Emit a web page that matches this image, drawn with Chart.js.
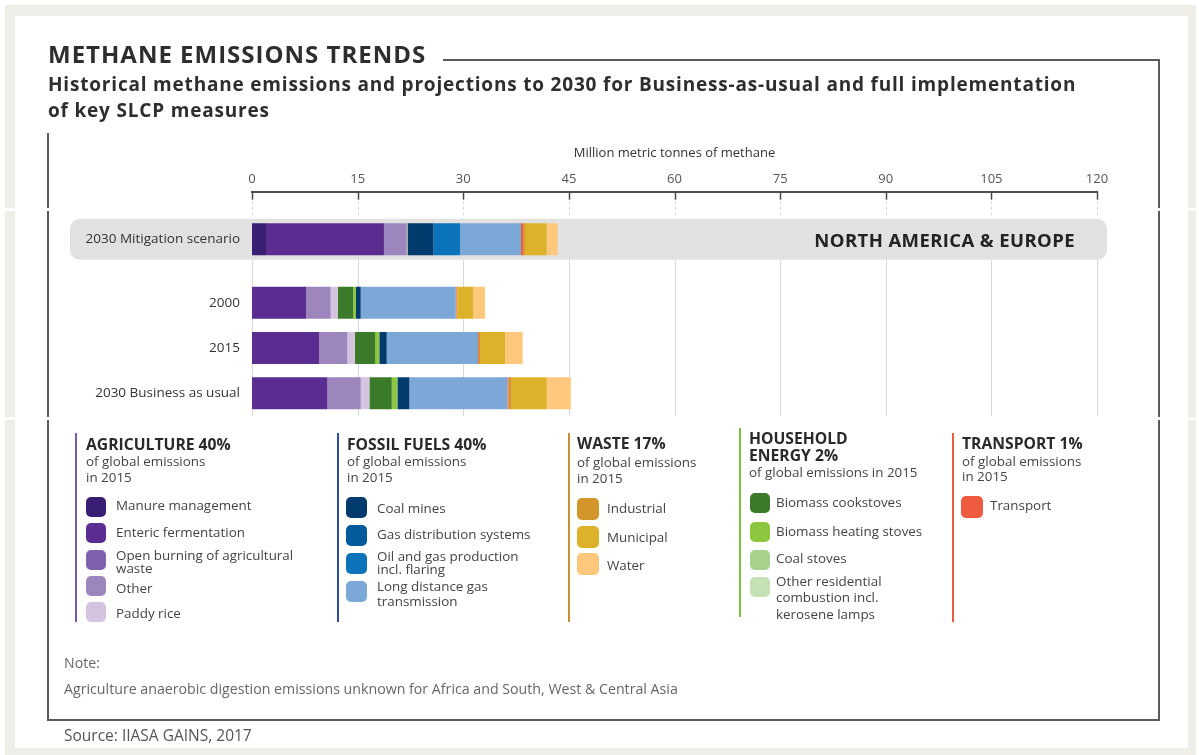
<!DOCTYPE html>
<html>
<head>
<meta charset="utf-8">
<title>Methane emissions trends</title>
<script src="https://cdn.jsdelivr.net/npm/chart.js@4.4.1/dist/chart.umd.min.js"></script>
<style>
  html, body { margin: 0; padding: 0; background: #fff; }
  body { width: 1199px; height: 755px; position: relative; overflow: hidden; font-family: "Open Sans", Lato, sans-serif; color: #333; }
  .abs { position: absolute; }
  .txt { position: absolute; white-space: nowrap; }
  .rule { position: absolute; background: #5a5a5a; }
  .gt { font-weight: 700; font-size: 15.7px; line-height: 18px; color: #2a2a2a; }
  .gs { font-size: 13.4px; line-height: 15.8px; color: #444; }
  .it { font-size: 13.4px; line-height: 14px; color: #444; }
  .sw { position: absolute; border-radius: 5px; }
  .vl { position: absolute; width: 2px; height: 189px; }
  #chart { position: absolute; left: 0; top: 0; }
</style>
</head>
<body>
  <!-- page frame -->
  <div class="abs" style="left:5px;top:5px;width:1191px;height:750px;background:#eeede8"></div>
  <div class="abs" style="left:15px;top:16px;width:1173px;height:732px;background:#fff"></div>

  <!-- boxed panel -->
  <div class="rule" style="left:443px;top:59px;width:717px;height:2px"></div>
  <div class="rule" style="left:1158px;top:59px;width:2px;height:662px"></div>
  <div class="rule" style="left:47px;top:719px;width:1113px;height:2px"></div>
  <div class="rule" style="left:47px;top:133px;width:2px;height:588px"></div>

  <!-- notches in the frame -->
  <div class="abs" style="left:0;top:208px;width:52px;height:3px;background:#fff"></div>
  <div class="abs" style="left:0;top:417px;width:52px;height:3px;background:#fff"></div>
  <div class="abs" style="left:1150px;top:208px;width:49px;height:3px;background:#fff"></div>
  <div class="abs" style="left:1150px;top:417px;width:49px;height:3px;background:#fff"></div>

  <canvas id="chart" width="1199" height="755"></canvas>

  <!-- headings -->
  <div class="txt" style="left:48px;top:40px;font-size:24px;line-height:28px;font-weight:700;color:#2e2e2e;letter-spacing:1px">METHANE EMISSIONS TRENDS</div>
  <div class="txt" style="left:48px;top:70.5px;font-size:19px;line-height:26.5px;font-weight:700;color:#2e2e2e;letter-spacing:0.81px">Historical methane emissions and projections to 2030 for Business-as-usual and full implementation<br>of key SLCP measures</div>

  <div class="txt" style="right:124px;top:229px;font-size:18.5px;line-height:22px;font-weight:700;color:#222;letter-spacing:0.4px">NORTH AMERICA &amp; EUROPE</div>

  <!-- legend: agriculture -->
  <div class="vl" style="left:75px;top:433px;background:#7a5aab"></div>
  <div class="txt gt" style="left:86px;top:435px">AGRICULTURE 40%</div>
  <div class="txt gs" style="left:86px;top:454px">of global emissions<br>in 2015</div>
  <div class="sw" style="left:86px;top:497px;width:20px;height:20px;background:#3a1e73"></div>
  <div class="sw" style="left:86px;top:523px;width:20px;height:20px;background:#5c2d91"></div>
  <div class="sw" style="left:86px;top:550px;width:20px;height:20px;background:#7e62ad"></div>
  <div class="sw" style="left:86px;top:576px;width:20px;height:20px;background:#9d86be"></div>
  <div class="sw" style="left:86px;top:602px;width:20px;height:20px;background:#d5c3e0"></div>
  <div class="txt it" style="left:116px;top:498px">Manure management</div>
  <div class="txt it" style="left:116px;top:524.5px">Enteric fermentation</div>
  <div class="txt it" style="left:116px;top:548.5px;line-height:13px">Open burning of agricultural<br>waste</div>
  <div class="txt it" style="left:116px;top:581px">Other</div>
  <div class="txt it" style="left:116px;top:606px">Paddy rice</div>

  <!-- legend: fossil fuels -->
  <div class="vl" style="left:337px;top:433px;background:#2e4f9f"></div>
  <div class="txt gt" style="left:347px;top:435px">FOSSIL FUELS 40%</div>
  <div class="txt gs" style="left:347px;top:454px">of global emissions<br>in 2015</div>
  <div class="sw" style="left:346px;top:497px;width:21px;height:21px;background:#013b6e"></div>
  <div class="sw" style="left:346px;top:525px;width:21px;height:21px;background:#035b9b"></div>
  <div class="sw" style="left:346px;top:553px;width:21px;height:21px;background:#0b73ba"></div>
  <div class="sw" style="left:346px;top:581px;width:21px;height:21px;background:#7ca8d8"></div>
  <div class="txt it" style="left:377px;top:501px">Coal mines</div>
  <div class="txt it" style="left:377px;top:527px">Gas distribution systems</div>
  <div class="txt it" style="left:377px;top:550px;line-height:12.5px">Oil and gas production<br>incl. flaring</div>
  <div class="txt it" style="left:377px;top:579px;line-height:15px">Long distance gas<br>transmission</div>

  <!-- legend: waste -->
  <div class="vl" style="left:568px;top:433px;background:#c98f33"></div>
  <div class="txt gt" style="left:577px;top:434px">WASTE 17%</div>
  <div class="txt gs" style="left:577px;top:453.5px;line-height:16.3px">of global emissions<br>in 2015</div>
  <div class="sw" style="left:577px;top:498px;width:22px;height:22px;background:#d3962b"></div>
  <div class="sw" style="left:577px;top:526px;width:22px;height:22px;background:#dcb22b"></div>
  <div class="sw" style="left:577px;top:553px;width:22px;height:22px;background:#fec87c"></div>
  <div class="txt it" style="left:607px;top:501px">Industrial</div>
  <div class="txt it" style="left:607px;top:529.7px">Municipal</div>
  <div class="txt it" style="left:607px;top:558px">Water</div>

  <!-- legend: household energy -->
  <div class="vl" style="left:739px;top:428px;background:#7cc142"></div>
  <div class="txt gt" style="left:749px;top:430px;line-height:16.7px">HOUSEHOLD<br>ENERGY 2%</div>
  <div class="txt gs" style="left:749px;top:464.7px">of global emissions in 2015</div>
  <div class="sw" style="left:750px;top:493px;width:20px;height:20px;background:#3c7a2b"></div>
  <div class="sw" style="left:750px;top:522px;width:20px;height:20px;background:#8dc641"></div>
  <div class="sw" style="left:750px;top:550px;width:20px;height:20px;background:#a8d28c"></div>
  <div class="sw" style="left:750px;top:577px;width:20px;height:20px;background:#c4e1b3"></div>
  <div class="txt it" style="left:776px;top:494.7px">Biomass cookstoves</div>
  <div class="txt it" style="left:776px;top:523.7px">Biomass heating stoves</div>
  <div class="txt it" style="left:776px;top:551.3px">Coal stoves</div>
  <div class="txt it" style="left:776px;top:572.7px;line-height:16.5px">Other residential<br>combustion incl.<br>kerosene lamps</div>

  <!-- legend: transport -->
  <div class="vl" style="left:952px;top:433px;background:#ef5b3f"></div>
  <div class="txt gt" style="left:962px;top:434px">TRANSPORT 1%</div>
  <div class="txt gs" style="left:962px;top:453.5px">of global emissions<br>in 2015</div>
  <div class="sw" style="left:961px;top:496px;width:22px;height:22px;background:#ef5b3f"></div>
  <div class="txt it" style="left:990px;top:498px">Transport</div>

  <!-- notes -->
  <div class="txt" style="left:64px;top:655px;font-size:14.2px;line-height:16px;color:#666">Note:</div>
  <div class="txt" style="left:64px;top:681px;font-size:14.2px;line-height:16px;color:#666">Agriculture anaerobic digestion emissions unknown for Africa and South, West &amp; Central Asia</div>
  <div class="txt" style="left:64px;top:726px;font-size:15.5px;line-height:18px;color:#555">Source: IIASA GAINS, 2017</div>

<script>
// Rows of the chart, top to bottom
const categories = ['2030 Mitigation scenario', '2000', '2015', '2030 Business as usual'];
// Axis tick labels (million metric tonnes of methane)
const xTickValues = [0, 15, 30, 45, 60, 75, 90, 105, 120];

// Emissions by source, million metric tonnes of methane, in row order
const manureManagement    = [1.99, 0, 0, 0];
const entericFermentation = [16.75, 7.67, 9.56, 10.71];
const openBurning         = [0, 0, 0, 0];
const otherAgriculture    = [3.23, 3.51, 3.98, 4.74];
const paddyRice           = [0.10, 0.99, 1.09, 1.22];
const biomassCookstoves   = [0.08, 2.22, 2.84, 3.18];
const biomassHeating      = [0, 0.38, 0.61, 0.80];
const coalStoves          = [0, 0, 0, 0];
const otherResidential    = [0, 0, 0, 0];
const coalMines           = [3.60, 0.67, 1.05, 1.70];
const gasDistribution     = [0, 0, 0, 0];
const oilGasProduction    = [3.79, 0, 0, 0];
const longDistanceGas     = [8.66, 13.49, 12.97, 13.92];
const transport           = [0.33, 0.10, 0.12, 0.15];
const wasteIndustrial     = [0.24, 0.10, 0.16, 0.47];
const wasteMunicipal      = [3.08, 2.31, 3.55, 4.97];
const wasteWater          = [1.56, 1.66, 2.51, 3.41];

// Vertical placement of each row on the index axis (the mitigation row sits apart)
const rowOffsets = [0, 1.4, 2.4, 3.4];

const series = [
  ['Manure management', manureManagement, '#3a1e73'],
  ['Enteric fermentation', entericFermentation, '#5c2d91'],
  ['Open burning of agricultural waste', openBurning, '#7e62ad'],
  ['Other', otherAgriculture, '#9d86be'],
  ['Paddy rice', paddyRice, '#d5c3e0'],
  ['Biomass cookstoves', biomassCookstoves, '#3c7a2b'],
  ['Biomass heating stoves', biomassHeating, '#8dc641'],
  ['Coal stoves', coalStoves, '#a8d28c'],
  ['Other residential combustion incl. kerosene lamps', otherResidential, '#c4e1b3'],
  ['Coal mines', coalMines, '#013b6e'],
  ['Gas distribution systems', gasDistribution, '#035b9b'],
  ['Oil and gas production incl. flaring', oilGasProduction, '#0b73ba'],
  ['Long distance gas transmission', longDistanceGas, '#7ca8d8'],
  ['Transport', transport, '#ef5b3f'],
  ['Industrial', wasteIndustrial, '#d3962b'],
  ['Municipal', wasteMunicipal, '#dcb22b'],
  ['Water', wasteWater, '#fec87c']
];

const datasets = series.map(([label, values, color]) => ({
  label,
  data: values.map((v, i) => ({ x: v, y: rowOffsets[i] })),
  backgroundColor: color
}));

// Grey rounded band behind the mitigation row, plus tick marks and grid lines
const backdrop = {
  id: 'backdrop',
  beforeDraw(chart) {
    const { ctx, scales: { x, y } } = chart;
    const cy = y.getPixelForValue(rowOffsets[0]);
    ctx.save();
    ctx.fillStyle = '#e1e1df';
    ctx.beginPath();
    ctx.roundRect(70, cy - 20.5, x.right + 10 - 70, 41, 10);
    ctx.fill();
    ctx.restore();
  },
  beforeDatasetsDraw(chart) {
    const { ctx, chartArea, scales: { x, y } } = chart;
    const cy = y.getPixelForValue(rowOffsets[0]);
    const bandTop = cy - 20.5, bandBottom = cy + 20.5;
    const seg = (x1, y1, x2, y2) => { ctx.beginPath(); ctx.moveTo(x1, y1); ctx.lineTo(x2, y2); ctx.stroke(); };
    ctx.save();
    x.ticks.forEach(t => {
      const px = Math.round(x.getPixelForValue(t.value)) + 0.5;
      ctx.setLineDash([]);
      ctx.strokeStyle = '#4a4a4a';
      ctx.lineWidth = 1.5;
      seg(px, chartArea.top, px, chartArea.top + 8);
      ctx.strokeStyle = '#d9d9d9';
      ctx.lineWidth = 1;
      ctx.setLineDash([3, 3]);
      seg(px, chartArea.top + 9, px, bandTop);
      ctx.setLineDash([]);
      seg(px, bandBottom, px, chartArea.bottom);
    });
    ctx.restore();
  }
};

Chart.defaults.font.family = '"Open Sans", Lato, sans-serif';

new Chart(document.getElementById('chart'), {
  type: 'bar',
  data: { datasets },
  options: {
    indexAxis: 'y',
    responsive: false,
    animation: false,
    devicePixelRatio: 1,
    events: [],
    layout: { padding: { left: 60, right: 102, top: 140, bottom: 339 } },
    datasets: { bar: { barThickness: 32, borderWidth: 0, inflateAmount: 0 } },
    plugins: { legend: { display: false }, tooltip: { enabled: false } },
    scales: {
      x: {
        type: 'linear',
        position: 'top',
        stacked: true,
        min: 0,
        max: 120,
        afterBuildTicks: s => { s.ticks = xTickValues.map(v => ({ value: v })); },
        afterFit: s => { s.height = 51.7; },
        grid: { display: false, drawTicks: false },
        border: { display: true, color: '#4d4d4d', width: 2 },
        ticks: { padding: 5, color: '#555', font: { size: 13 }, maxRotation: 0, autoSkip: false },
        title: {
          display: true,
          text: 'Million metric tonnes of methane',
          color: '#333',
          font: { size: 13 },
          padding: { top: 5, bottom: 0 }
        }
      },
      y: {
        type: 'linear',
        reverse: true,
        stacked: true,
        offset: false,
        min: -1.051,
        max: 3.901,
        afterBuildTicks: s => { s.ticks = rowOffsets.map(v => ({ value: v })); },
        afterFit: s => { s.width = 192; },
        grid: { display: false, drawTicks: false, offset: false },
        border: { display: false },
        ticks: {
          padding: 12,
          color: '#333',
          font: { size: 13.5 },
          autoSkip: false,
          callback: v => categories[rowOffsets.indexOf(v)]
        }
      }
    }
  },
  plugins: [backdrop]
});
</script>
</body>
</html>
